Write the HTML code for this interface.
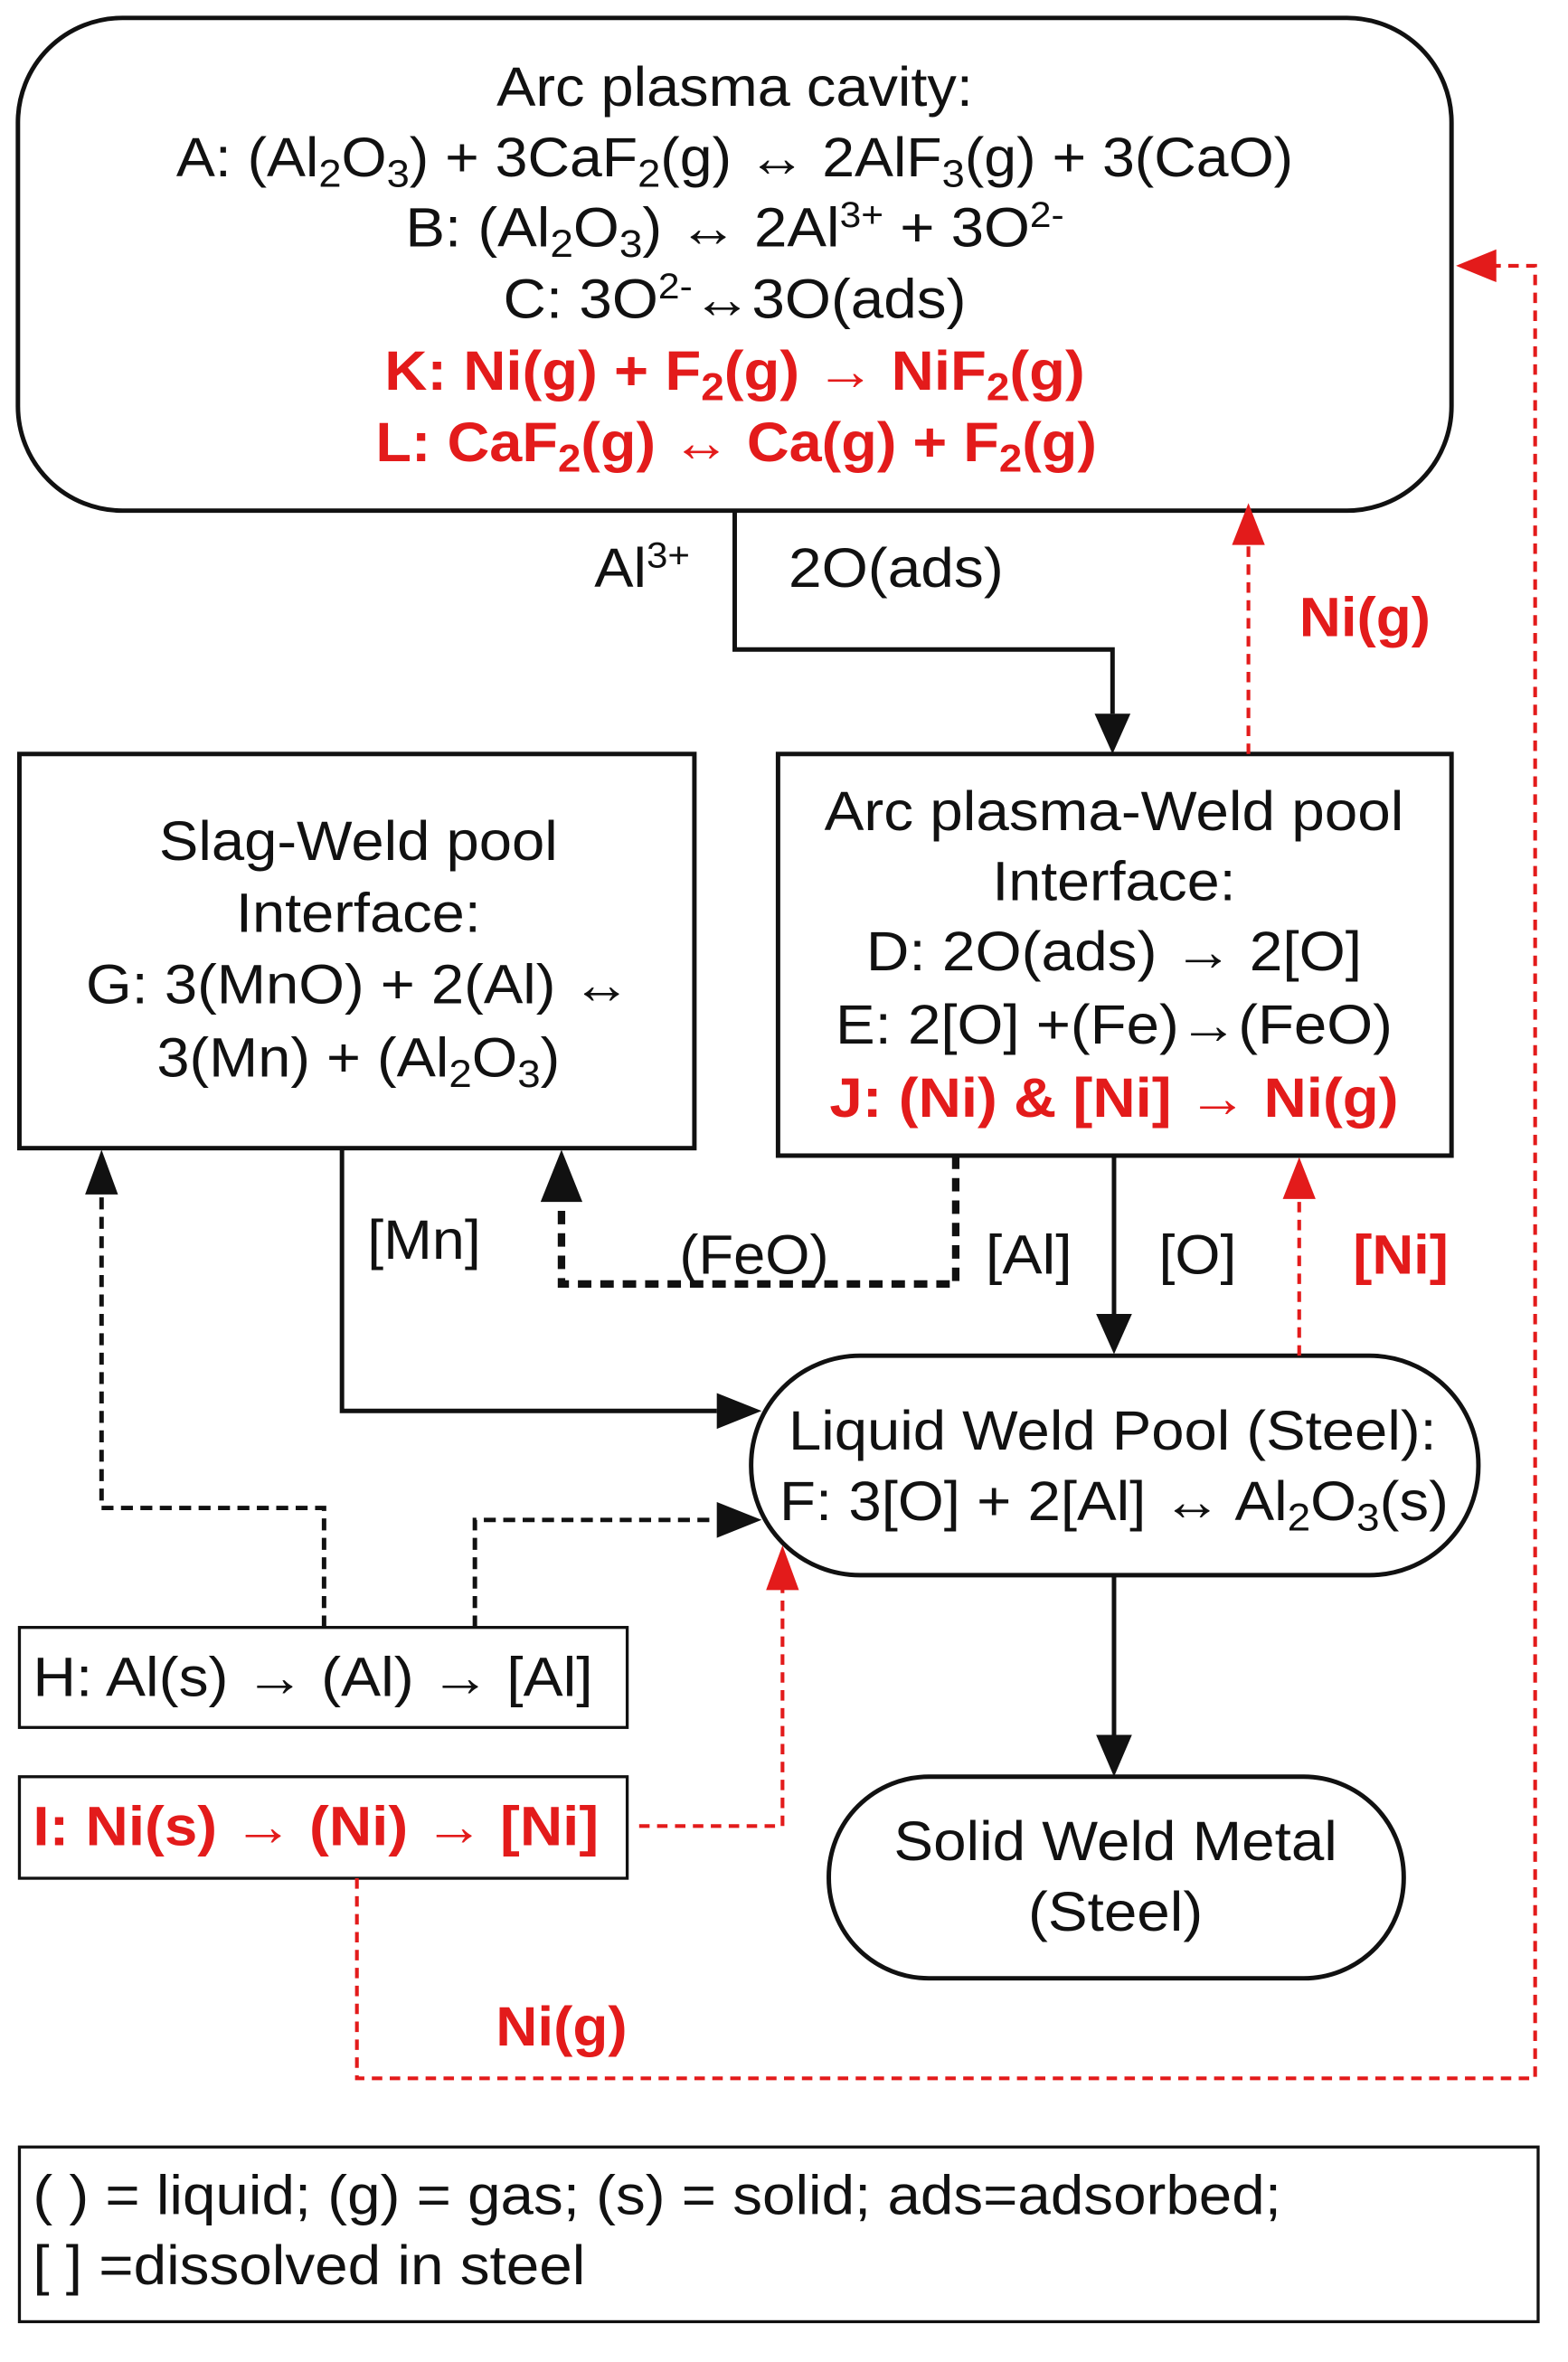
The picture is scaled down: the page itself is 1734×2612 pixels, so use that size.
<!DOCTYPE html>
<html><head><meta charset="utf-8"><style>
html,body{margin:0;padding:0;background:#fff}
svg{display:block}
text{font-family:"Liberation Sans",Arial,sans-serif;font-size:37px;fill:#111}
.r{fill:#e31b1b;font-weight:bold}
.m{text-anchor:middle}
</style></head><body>
<svg width="1734" height="2612" viewBox="0 0 1050 1582" preserveAspectRatio="none" xmlns="http://www.w3.org/2000/svg">
<g fill="none" stroke="#111" stroke-width="3">
<rect x="12" y="12" width="960" height="330" rx="70"/>
<rect x="13" y="505" width="452" height="264"/>
<rect x="521" y="505" width="451" height="269"/>
<rect x="503" y="908" width="487" height="147" rx="73"/>
<rect x="555" y="1190" width="385" height="135" rx="67"/>
<rect x="13" y="1090" width="407" height="67" stroke-width="2"/>
<rect x="13" y="1190" width="407" height="68" stroke-width="2"/>
<rect x="13" y="1438" width="1017" height="117" stroke-width="2"/>
<polyline points="492,342 492,435 745,435 745,478"/>
<polyline points="229,769 229,945 480,945"/>
<line x1="746" y1="774" x2="746" y2="880"/>
<line x1="746" y1="1055" x2="746" y2="1162"/>
<polyline points="640,774 640,860 376,860 376,805" stroke-width="5" stroke-dasharray="9,6"/>
<polyline points="217,1090 217,1010 68,1010 68,800" stroke-dasharray="8,5"/>
<polyline points="318,1090 318,1018 480,1018" stroke-dasharray="8,5"/>
<g stroke="#e31b1b" stroke-width="2.5" stroke-dasharray="7,5">
<line x1="836" y1="505" x2="836" y2="365"/>
<line x1="870" y1="908" x2="870" y2="800"/>
<polyline points="428,1223 524,1223 524,1062"/>
<polyline points="239,1258 239,1392 1028,1392 1028,178 1000,178"/>
</g>
</g>
<g fill="#111">
<path d="M733,478L757,478L745,505z"/>
<path d="M480,933L480,957L510,945z"/>
<path d="M480,1006L480,1030L510,1018z"/>
<path d="M734,880L758,880L746,907z"/>
<path d="M734,1162L758,1162L746,1190z"/>
<path d="M362,805L390,805L376,770z"/>
<path d="M57,800L79,800L68,770z"/>
</g>
<g fill="#e31b1b">
<path d="M825,365L847,365L836,337z"/>
<path d="M859,803L881,803L870,775z"/>
<path d="M513,1065L535,1065L524,1035z"/>
<path d="M1002,167L1002,189L975,178z"/>
</g>
<text class="m" x="492" y="71" textLength="319" lengthAdjust="spacingAndGlyphs">Arc plasma cavity:</text>
<text class="m" x="492" y="118" textLength="748" lengthAdjust="spacingAndGlyphs">A: (Al<tspan font-size="26" dy="7">2</tspan><tspan dy="-7">O</tspan><tspan font-size="26" dy="7">3</tspan><tspan dy="-7">) + 3CaF</tspan><tspan font-size="26" dy="7">2</tspan><tspan dy="-7">(g) ↔ 2AlF</tspan><tspan font-size="26" dy="7">3</tspan><tspan dy="-7">(g) + 3(CaO)</tspan></text>
<text class="m" x="492" y="165" textLength="441" lengthAdjust="spacingAndGlyphs">B: (Al<tspan font-size="26" dy="7">2</tspan><tspan dy="-7">O</tspan><tspan font-size="26" dy="7">3</tspan><tspan dy="-7">) ↔ 2Al</tspan><tspan font-size="24" dy="-13">3+</tspan><tspan dy="13"> + 3O</tspan><tspan font-size="24" dy="-13">2-</tspan></text>
<text class="m" x="492" y="213" textLength="310" lengthAdjust="spacingAndGlyphs">C: 3O<tspan font-size="24" dy="-13">2-</tspan><tspan dy="13">↔3O(ads)</tspan></text>
<text class="m r" x="492" y="261" textLength="469" lengthAdjust="spacingAndGlyphs">K: Ni(g) + F<tspan font-size="26" dy="7">2</tspan><tspan dy="-7">(g) → NiF</tspan><tspan font-size="26" dy="7">2</tspan><tspan dy="-7">(g)</tspan></text>
<text class="m r" x="493" y="309" textLength="483" lengthAdjust="spacingAndGlyphs">L: CaF<tspan font-size="26" dy="7">2</tspan><tspan dy="-7">(g) ↔ Ca(g) + F</tspan><tspan font-size="26" dy="7">2</tspan><tspan dy="-7">(g)</tspan></text>
<text x="398" y="393" textLength="64" lengthAdjust="spacingAndGlyphs">Al<tspan font-size="24" dy="-13">3+</tspan></text>
<text x="528" y="393" textLength="144" lengthAdjust="spacingAndGlyphs">2O(ads)</text>
<text class="r" x="870" y="426" textLength="88" lengthAdjust="spacingAndGlyphs">Ni(g)</text>
<text class="m" x="240" y="576" textLength="267" lengthAdjust="spacingAndGlyphs">Slag-Weld pool</text>
<text class="m" x="240" y="624" textLength="164" lengthAdjust="spacingAndGlyphs">Interface:</text>
<text class="m" x="240" y="672" textLength="365" lengthAdjust="spacingAndGlyphs">G: 3(MnO) + 2(Al) ↔</text>
<text class="m" x="240" y="721" textLength="270" lengthAdjust="spacingAndGlyphs">3(Mn) + (Al<tspan font-size="26" dy="7">2</tspan><tspan dy="-7">O</tspan><tspan font-size="26" dy="7">3</tspan><tspan dy="-7">)</tspan></text>
<text class="m" x="746" y="556" textLength="388" lengthAdjust="spacingAndGlyphs">Arc plasma-Weld pool</text>
<text class="m" x="746" y="603" textLength="163" lengthAdjust="spacingAndGlyphs">Interface:</text>
<text class="m" x="746" y="650" textLength="332" lengthAdjust="spacingAndGlyphs">D: 2O(ads) → 2[O]</text>
<text class="m" x="746" y="699" textLength="373" lengthAdjust="spacingAndGlyphs">E: 2[O] +(Fe)→(FeO)</text>
<text class="m r" x="746" y="748" textLength="381" lengthAdjust="spacingAndGlyphs">J: (Ni) &amp; [Ni] → Ni(g)</text>
<text x="246" y="843" textLength="76" lengthAdjust="spacingAndGlyphs">[Mn]</text>
<text x="455" y="853" textLength="100" lengthAdjust="spacingAndGlyphs">(FeO)</text>
<text x="660" y="853" textLength="58" lengthAdjust="spacingAndGlyphs">[Al]</text>
<text x="776" y="853" textLength="52" lengthAdjust="spacingAndGlyphs">[O]</text>
<text class="r" x="906" y="853" textLength="64" lengthAdjust="spacingAndGlyphs">[Ni]</text>
<text class="m" x="745" y="971" textLength="434" lengthAdjust="spacingAndGlyphs">Liquid Weld Pool (Steel):</text>
<text class="m" x="746" y="1018" textLength="448" lengthAdjust="spacingAndGlyphs">F: 3[O] + 2[Al] ↔ Al<tspan font-size="26" dy="7">2</tspan><tspan dy="-7">O</tspan><tspan font-size="26" dy="7">3</tspan><tspan dy="-7">(s)</tspan></text>
<text class="m" x="747" y="1246" textLength="297" lengthAdjust="spacingAndGlyphs">Solid Weld Metal</text>
<text class="m" x="747" y="1293" textLength="117" lengthAdjust="spacingAndGlyphs">(Steel)</text>
<text x="22" y="1136" textLength="375" lengthAdjust="spacingAndGlyphs">H: Al(s) → (Al) → [Al]</text>
<text class="r" x="22" y="1236" textLength="379" lengthAdjust="spacingAndGlyphs">I: Ni(s) → (Ni) → [Ni]</text>
<text class="r" x="332" y="1370" textLength="88" lengthAdjust="spacingAndGlyphs">Ni(g)</text>
<text x="22" y="1483" textLength="836" lengthAdjust="spacingAndGlyphs">( ) = liquid; (g) = gas; (s) = solid; ads=adsorbed;</text>
<text x="22" y="1530" textLength="370" lengthAdjust="spacingAndGlyphs">[ ] =dissolved in steel</text>
</svg>
</body></html>
